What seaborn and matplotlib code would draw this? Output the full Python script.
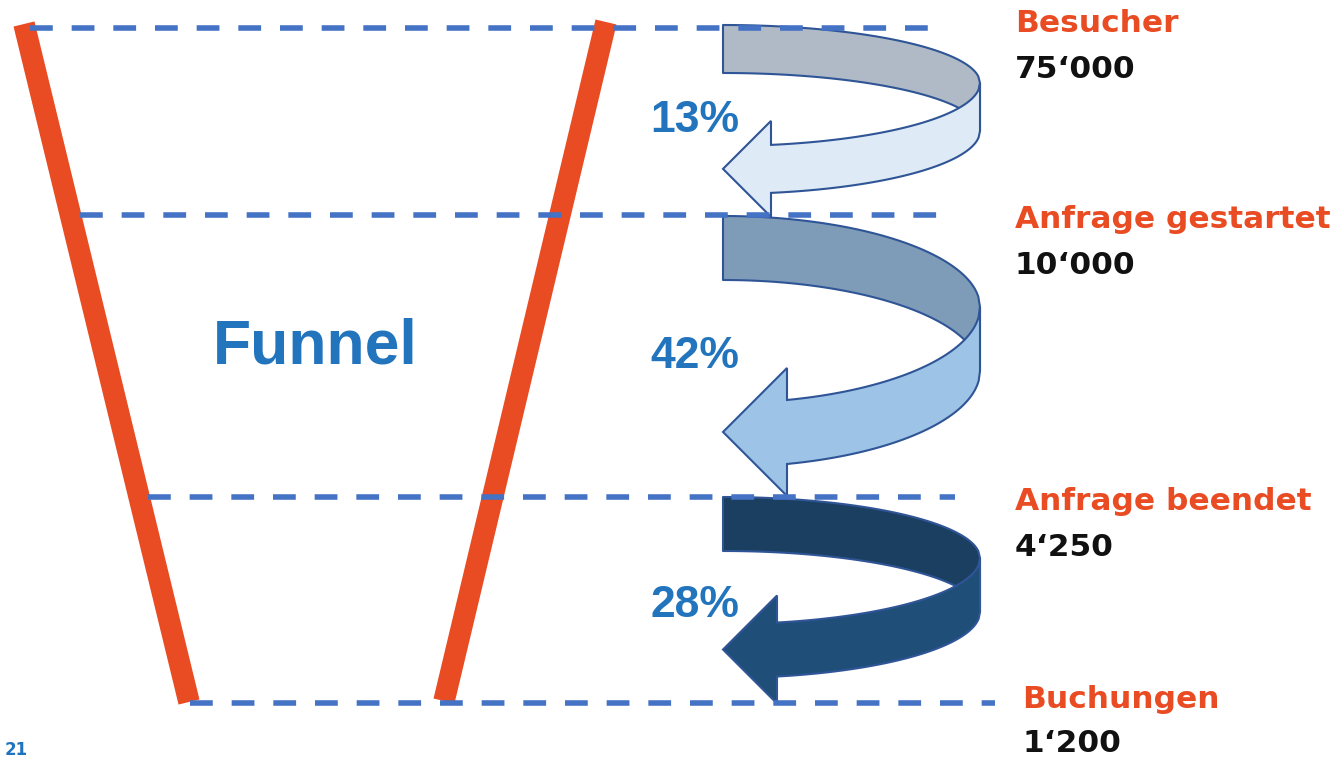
import numpy as np
import pandas as pd
import matplotlib.pyplot as plt
import seaborn as sns

# Daten
stages = ["Besucher", "Anfrage gestartet", "Anfrage beendet", "Buchungen"]
counts = [75000, 10000, 4250, 1200]
rates = [13, 42, 28]

# Layout in Pixeln (y nach unten)
stage_y = [28, 215, 497, 703]
line_x0 = [30, 80, 148, 190]
line_x1 = [945, 955, 955, 995]
label_x = [1015, 1015, 1015, 1022]
label_base = [32, 228, 510, 708]
count_base = [78, 274, 556, 752]
rate_base = [132, 368, 617]
arrow_cy = [83, 307, 558]
arrow_b = [58, 91, 61]
arrow_h = [48, 64, 54]
arrow_back = ["#AFBAC6", "#7E9CB8", "#1B3F60"]
arrow_front = ["#DEEAF6", "#9DC3E6", "#1F4E79"]
funnel = pd.DataFrame({"x": [24, 189, 606, 444],
                       "y": [24, 702, 22, 701],
                       "side": ["links", "links", "rechts", "rechts"]})

ORANGE = "#E94B23"
BLUE = "#2274BD"
DASH = "#4472C4"
EDGE = "#2F5597"

sns.set_theme(style="white")
plt.rcParams["font.family"] = ["DejaVu Sans"]

fig = plt.figure(figsize=(13.32, 7.57), dpi=100)
ax = fig.add_axes([0, 0, 1, 1])


def ribbon(ax, cy, b, h, back, front, cx=723, a=257):
    # hinterer Teil des Bandes (obere Ellipsenhaelfte)
    t = np.linspace(0, a, 150)
    s = np.sqrt(1 - (t / a) ** 2)
    top = cy - b * s
    xb = np.concatenate([cx + t, (cx + t)[::-1]])
    yb = np.concatenate([top, (top + h)[::-1]])
    ax.fill(xb, yb, fc=back, ec=EDGE, lw=1.5, joinstyle="round", zorder=2)
    # vorderer Teil mit Pfeilspitze
    bf = b + 5
    tf = np.linspace(a, h, 150)
    sf = np.sqrt(1 - (tf / a) ** 2)
    up = cy + bf * sf
    lo = up + h
    mid = up[-1] + h / 2
    xf = np.concatenate([cx + tf, [cx + h, cx, cx + h], (cx + tf)[::-1]])
    yf = np.concatenate([up, [mid - h, mid, mid + h], lo[::-1]])
    ax.fill(xf, yf, fc=front, ec=EDGE, lw=1.5, joinstyle="miter", zorder=3)


for i in range(3):
    ribbon(ax, arrow_cy[i], arrow_b[i], arrow_h[i], arrow_back[i], arrow_front[i])

# Trichter
sns.lineplot(data=funnel, x="x", y="y", units="side", estimator=None, sort=False,
             color=ORANGE, lw=15.5, solid_capstyle="butt", ax=ax, zorder=4)

# Stufenlinien
ax.hlines(stage_y, line_x0, line_x1, colors=DASH, lw=4,
          linestyles=[(0, (4.1, 3.4))], zorder=5)

# Beschriftungen
for i, name in enumerate(stages):
    ax.text(label_x[i], label_base[i], name, color=ORANGE, fontsize=22.5,
            fontweight="bold", va="baseline")
    ax.text(label_x[i], count_base[i], f"{counts[i]:,}".replace(",", "\u2018"),
            color="#111111", fontsize=22.5, fontweight="bold", va="baseline")

for i, r in enumerate(rates):
    ax.text(650, rate_base[i], f"{r}%", color=BLUE, fontsize=32,
            fontweight="bold", family=["Liberation Sans", "DejaVu Sans"], va="baseline")

ax.text(315, 364, "Funnel", color=BLUE, fontsize=45, fontweight="bold",
        family=["Liberation Sans", "DejaVu Sans"], ha="center", va="baseline")
ax.text(5, 755, "21", color="#1F74BF", fontsize=12, fontweight="bold", va="baseline")

ax.set_xlim(0, 1332)
ax.set_ylim(757, 0)
ax.axis("off")

fig.savefig("out.png", dpi=100)
